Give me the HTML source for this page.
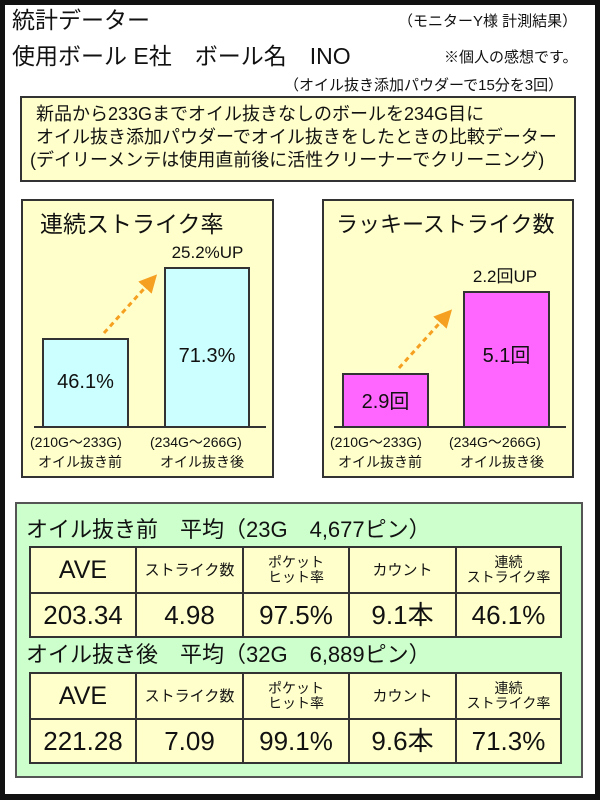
<!DOCTYPE html>
<html><head><meta charset="utf-8"><style>
*{margin:0;padding:0;box-sizing:border-box}
body{width:600px;height:800px;background:#fff;font-family:"Liberation Sans","Noto Sans CJK JP",sans-serif;color:#111;position:relative;overflow:hidden}
.frame{position:absolute;left:0;top:0;width:600px;height:800px;border:5px solid #111;border-bottom-width:6px}
.a{position:absolute;white-space:nowrap;line-height:1}
.box{position:absolute;border:2px solid #333}
.bar{position:absolute;border:2px solid #333}
.c{text-align:center}
table{position:absolute;border-collapse:collapse;background:#ffffcc}
td{border:2px solid #333;text-align:center;padding:0;line-height:1}
.s{font-size:15px}
.s2{font-size:14px;line-height:1.05}
.v{font-size:26px}
</style></head><body>
<div class="frame"></div>
<div class="a" style="left:12px;top:9px;font-size:23px">統計データー</div>
<div class="a" style="left:398px;top:14px;font-size:15px">（モニターY様 計測結果）</div>
<div class="a" style="left:12px;top:45px;font-size:23px">使用ボール E社　ボール名　INO</div>
<div class="a" style="left:444px;top:50px;font-size:15px">※個人の感想です。</div>
<div class="a" style="left:284px;top:78px;font-size:15px">（オイル抜き添加パウダーで15分を3回）</div>

<div class="box" style="left:20px;top:96px;width:556px;height:86px;background:#ffffcc"></div>
<div class="a" style="left:36px;top:105px;font-size:18px">新品から233Gまでオイル抜きなしのボールを234G目に</div>
<div class="a" style="left:36px;top:128px;font-size:18px">オイル抜き添加パウダーでオイル抜きをしたときの比較データー</div>
<div class="a" style="left:30px;top:151px;font-size:18px">(デイリーメンテは使用直前後に活性クリーナーでクリーニング)</div>

<!-- left panel -->
<div class="box" style="left:21px;top:199px;width:253px;height:279px;background:#ffffcc"></div>
<div class="a" style="left:40px;top:213px;font-size:23px">連続ストライク率</div>
<div class="a c" style="left:150px;top:244px;width:115px;font-size:17px">25.2%UP</div>
<div class="bar" style="left:42px;top:338px;width:87px;height:90px;background:#ccffff"></div>
<div class="bar" style="left:164px;top:267px;width:86px;height:161px;background:#ccffff"></div>
<div class="a c" style="left:42px;top:372px;width:87px;font-size:20px">46.1%</div>
<div class="a c" style="left:164px;top:346px;width:86px;font-size:20px">71.3%</div>
<div style="position:absolute;left:34px;top:426px;width:232px;height:2px;background:#333"></div>
<div class="a" style="left:30px;top:435px;font-size:14px">(210G～233G)</div>
<div class="a" style="left:150px;top:435px;font-size:14px">(234G～266G)</div>
<div class="a" style="left:38px;top:455px;font-size:14px">オイル抜き前</div>
<div class="a" style="left:160px;top:455px;font-size:14px">オイル抜き後</div>

<!-- right panel -->
<div class="box" style="left:322px;top:199px;width:252px;height:279px;background:#ffffcc"></div>
<div class="a" style="left:336px;top:214px;font-size:22px">ラッキーストライク数</div>
<div class="a c" style="left:450px;top:268px;width:110px;font-size:17px">2.2回UP</div>
<div class="bar" style="left:342px;top:373px;width:87px;height:55px;background:#ff66ff"></div>
<div class="bar" style="left:463px;top:291px;width:87px;height:137px;background:#ff66ff"></div>
<div class="a c" style="left:342px;top:392px;width:87px;font-size:20px">2.9回</div>
<div class="a c" style="left:463px;top:346px;width:87px;font-size:20px">5.1回</div>
<div style="position:absolute;left:334px;top:426px;width:232px;height:2px;background:#333"></div>
<div class="a" style="left:330px;top:435px;font-size:14px">(210G～233G)</div>
<div class="a" style="left:449px;top:435px;font-size:14px">(234G～266G)</div>
<div class="a" style="left:338px;top:455px;font-size:14px">オイル抜き前</div>
<div class="a" style="left:460px;top:455px;font-size:14px">オイル抜き後</div>

<svg style="position:absolute;left:0;top:0" width="600" height="800">
<defs><marker id="ah" markerWidth="6" markerHeight="6" refX="3" refY="3" orient="auto"><path d="M0,0 L6,3 L0,6 z" fill="#f5a020"/></marker></defs>
<line x1="104" y1="333" x2="151" y2="281" stroke="#f5a020" stroke-width="3" stroke-dasharray="5,4" marker-end="url(#ah)"/>
<line x1="399" y1="368" x2="446" y2="316" stroke="#f5a020" stroke-width="3" stroke-dasharray="5,4" marker-end="url(#ah)"/>
</svg>

<!-- green box -->
<div class="box" style="left:15px;top:502px;width:568px;height:276px;background:#ccffcc;border-color:#555"></div>
<div class="a" style="left:26px;top:519px;font-size:22px">オイル抜き前　平均（23G　4,677ピン）</div>
<table style="left:29px;top:546px;width:533px;height:92px">
<tr style="height:46px"><td style="width:106px;font-size:25px">AVE</td><td class="s" style="width:107px">ストライク数</td><td class="s2" style="width:106px">ポケット<br>ヒット率</td><td class="s" style="width:107px">カウント</td><td class="s2">連続<br>ストライク率</td></tr>
<tr><td class="v">203.34</td><td class="v">4.98</td><td class="v">97.5%</td><td class="v">9.1本</td><td class="v">46.1%</td></tr>
</table>
<div class="a" style="left:26px;top:644px;font-size:22px">オイル抜き後　平均（32G　6,889ピン）</div>
<table style="left:29px;top:672px;width:533px;height:92px">
<tr style="height:46px"><td style="width:106px;font-size:25px">AVE</td><td class="s" style="width:107px">ストライク数</td><td class="s2" style="width:106px">ポケット<br>ヒット率</td><td class="s" style="width:107px">カウント</td><td class="s2">連続<br>ストライク率</td></tr>
<tr><td class="v">221.28</td><td class="v">7.09</td><td class="v">99.1%</td><td class="v">9.6本</td><td class="v">71.3%</td></tr>
</table>
</body></html>
